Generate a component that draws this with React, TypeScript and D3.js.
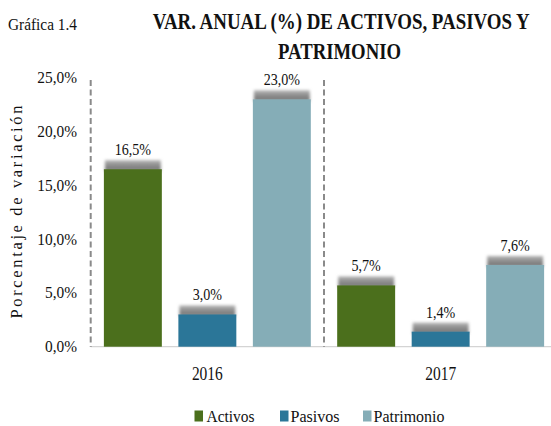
import React from "react";
import * as d3 from "d3";

const years = ["2016", "2017"];
const seriesNames = ["Activos", "Pasivos", "Patrimonio"];
const activos = [16.5, 5.7];
const pasivos = [3.0, 1.4];
const patrimonio = [23.0, 7.6];
const yTicks = [0, 5, 10, 15, 20, 25];
const colors = ["#4b6f1c", "#2b7698", "#85adb7"];

const W = 551;
const H = 426;
const FONT = "'Liberation Serif', 'Times New Roman', serif";
const tStyle = { fontFamily: FONT };

export default function App() {
  const values = [activos, pasivos, patrimonio];
  const x0 = d3.scaleBand<string>().domain(years).range([90.7, 557.3]).padding(0);
  const x1 = d3
    .scaleBand<string>()
    .domain(seriesNames)
    .range([0, x0.bandwidth()])
    .paddingInner(0.222)
    .paddingOuter(0.177);
  const y = d3.scaleLinear().domain([0, 25]).range([346.7, 77.8]);
  const fmt = (v: number) => v.toFixed(1).replace(".", ",") + "%";
  const base = y(0);

  const legendItems = [
    { name: "Activos", sx: 194.5, tx: 206.5, w: 48 },
    { name: "Pasivos", sx: 280, tx: 290.5, w: 49 },
    { name: "Patrimonio", sx: 363, tx: 373.5, w: 71 },
  ];

  return (
    <svg
      width={W}
      height={H}
      style={{ position: "absolute", left: 0, top: 0, display: "block", background: "#fff" }}
    >
      <defs>
        <filter id="softBlur" filterUnits="userSpaceOnUse" x={0} y={0} width={W} height={H}>
          <feGaussianBlur stdDeviation="1.5" />
        </filter>
        <linearGradient id="shadowGrad" x1="0" y1="0" x2="0" y2="1">
          <stop offset="0" stopColor="#b5b5b5" />
          <stop offset="0.5" stopColor="#8a8a8a" />
          <stop offset="1" stopColor="#777" />
        </linearGradient>
      </defs>

      {/* Header */}
      <text x={8} y={30} fontSize={17} textLength={69} lengthAdjust="spacingAndGlyphs" fill="#111" style={tStyle}>
        Gráfica 1.4
      </text>
      <text
        x={152.7}
        y={29.3}
        fontSize={23}
        fontWeight="bold"
        textLength={377}
        lengthAdjust="spacingAndGlyphs"
        fill="#111"
        style={tStyle}
      >
        VAR. ANUAL (%) DE ACTIVOS, PASIVOS Y
      </text>
      <text
        x={278}
        y={59}
        fontSize={23}
        fontWeight="bold"
        textLength={123}
        lengthAdjust="spacingAndGlyphs"
        fill="#111"
        style={tStyle}
      >
        PATRIMONIO
      </text>

      {/* Y label */}
      <text
        transform={`translate(22,212) rotate(-90)`}
        textAnchor="middle"
        fontSize={16.5}
        textLength={213}
        lengthAdjust="spacing"
        fill="#111"
        style={tStyle}
      >
        Porcentaje de variación
      </text>

      {/* Y tick labels */}
      {yTicks.map((t) => (
        <text
          key={t}
          x={0}
          y={0}
          textAnchor="end"
          fontSize={16}
          fill="#111"
          style={tStyle}
          transform={`translate(77,${y(t) + 5.5}) scale(0.96,1)`}
        >
          {fmt(t)}
        </text>
      ))}

      {/* baseline */}
      <line x1={90.7} x2={W} y1={base} y2={base} stroke="#d4d4d4" strokeWidth={1.2} />

      {/* dashed separators */}
      {[x0(years[0])!, x0(years[1])!].map((xx, i) => (
        <line
          key={i}
          x1={xx}
          x2={xx}
          y1={80}
          y2={base}
          stroke="#8a8a8a"
          strokeWidth={2}
          strokeDasharray="6,3.5"
        />
      ))}

      {/* Bars */}
      {years.map((yr, gi) =>
        seriesNames.map((s, si) => {
          const v = values[si][gi];
          const bx = x0(yr)! + x1(s)!;
          const bw = x1.bandwidth();
          const top = y(v);
          return (
            <g key={yr + s}>
              <rect
                x={bx + 1}
                y={top - 9}
                width={bw - 2}
                height={11}
                fill="url(#shadowGrad)"
                filter="url(#softBlur)"
              />
              <rect x={bx} y={top} width={bw} height={base - top} fill={colors[si]} />
              <text
                x={0}
                y={0}
                textAnchor="middle"
                fontSize={16}
                fill="#111"
                style={tStyle}
                transform={`translate(${bx + bw / 2},${top - 14}) scale(0.88,1)`}
              >
                {fmt(v)}
              </text>
            </g>
          );
        })
      )}

      {/* X labels */}
      {years.map((yr) => (
        <text
          key={yr}
          x={0}
          y={0}
          textAnchor="middle"
          fontSize={18}
          fill="#111"
          style={tStyle}
          transform={`translate(${x0(yr)! + x0.bandwidth() / 2},380) scale(0.86,1)`}
        >
          {yr}
        </text>
      ))}

      {/* Legend */}
      {legendItems.map((it, i) => (
        <g key={it.name}>
          <rect x={it.sx} y={410.5} width={8.5} height={11} fill={colors[i]} />
          <text
            x={it.tx}
            y={421.7}
            fontSize={17}
            textLength={it.w}
            lengthAdjust="spacingAndGlyphs"
            fill="#111"
            style={tStyle}
          >
            {it.name}
          </text>
        </g>
      ))}
    </svg>
  );
}
